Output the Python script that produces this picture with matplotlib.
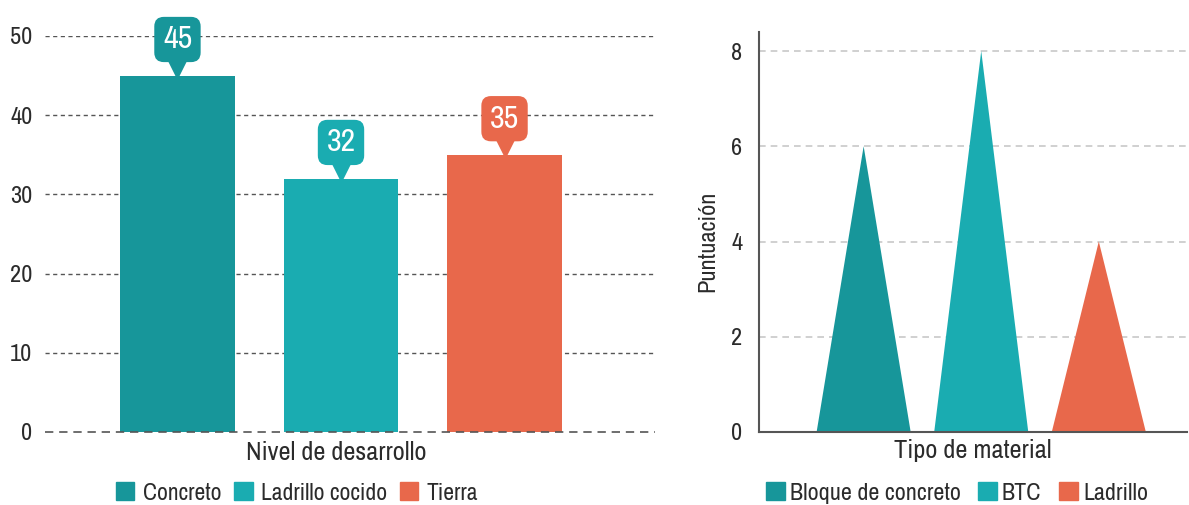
import matplotlib

matplotlib.use("Agg")
import matplotlib.pyplot as plt
import numpy as np
from matplotlib.patches import Patch
from matplotlib.transforms import ScaledTranslation

plt.rcParams["font.family"] = ["Archivo Narrow", "DejaVu Sans"]

# left chart data
dev_labels = ["Concreto", "Ladrillo cocido", "Tierra"]
dev_values = [45, 32, 35]
dev_ticks = [0, 10, 20, 30, 40, 50]
# right chart data
mat_labels = ["Bloque de concreto", "BTC", "Ladrillo"]
mat_scores = [6, 8, 4]
mat_ticks = [0, 2, 4, 6, 8]

colors = ["#17969a", "#1aacb1", "#e8684b"]
text_c = "#2b2b2b"

fig = plt.figure(figsize=(11.89, 5.05), dpi=100)

# ---- left: bar chart with callouts ----
ax1 = fig.add_axes([45 / 1189, 73 / 505, 610 / 1189, 396 / 505])
pos = np.arange(len(dev_values))
ax1.bar(pos, dev_values, width=0.70, color=colors, zorder=2)
ax1.set_xlim(-0.81, 2.92)
ax1.set_ylim(0, 50)
ax1.set_yticks(dev_ticks)
ax1.set_xticks([])
for t in dev_ticks[1:]:
    ax1.axhline(t, linestyle=(0, (3, 2.5)), color="#555555", linewidth=1.0, zorder=1)
ax1.axhline(0, linestyle=(0, (5, 3.5)), color="#555555", linewidth=1.2, zorder=3, clip_on=False)
for s in ax1.spines.values():
    s.set_visible(False)
ax1.tick_params(axis="y", length=0, pad=9, labelsize=17.5, labelcolor=text_c)

for x, v, c in zip(pos, dev_values, colors):
    ax1.annotate(str(v), xy=(x, v), xytext=(0, 26), textcoords="offset points",
                 ha="center", va="center", color="white", fontsize=23,
                 bbox=dict(boxstyle="round,pad=0.27,rounding_size=0.3", fc=c, ec="none"),
                 annotation_clip=False, zorder=4)
    tr = ax1.transData + ScaledTranslation(0, 5.5 / 72, fig.dpi_scale_trans)
    ax1.plot(x, v, marker="v", markersize=14, color=c, transform=tr, clip_on=False, zorder=3)

fig.text(336 / 1189, 1 - 452 / 505, "Nivel de desarrollo", ha="center", va="center",
         fontsize=19, color=text_c)
fig.legend([Patch(color=c) for c in colors], dev_labels, loc="center",
           bbox_to_anchor=(297 / 1189, 1 - 493 / 505), ncol=3, frameon=False,
           fontsize=17, handlelength=0.78, handleheight=0.78, handletextpad=0.35,
           columnspacing=0.55, labelcolor=text_c)

# ---- right: triangle "peaks" ----
ax2 = fig.add_axes([759 / 1189, 73 / 505, 428 / 1189, 400 / 505])
half = 0.40
for i, (v, c) in enumerate(zip(mat_scores, colors)):
    ax2.fill([i - half, i, i + half], [0, v, 0], color=c, zorder=2, linewidth=0)
ax2.set_xlim(-0.89, 2.75)
ax2.set_ylim(0, 8.4)
ax2.set_yticks(mat_ticks)
ax2.set_xticks([])
ax2.yaxis.grid(True, linestyle=(0, (4, 3)), color="#c8c8c8", linewidth=1.2, zorder=1)
ax2.spines["top"].set_visible(False)
ax2.spines["right"].set_visible(False)
for s in ("left", "bottom"):
    ax2.spines[s].set_color("#555555")
    ax2.spines[s].set_linewidth(1.5)
ax2.tick_params(axis="y", length=0, pad=12, labelsize=17.5, labelcolor=text_c)

fig.text(973 / 1189, 1 - 450 / 505, "Tipo de material", ha="center", va="center",
         fontsize=19, color=text_c)
fig.text(708 / 1189, 1 - 241 / 505, "Puntuación", ha="center", va="center",
         rotation=90, fontsize=17.5, color=text_c)
fig.legend([Patch(color=c) for c in colors], mat_labels, loc="center",
           bbox_to_anchor=(957 / 1189, 1 - 493 / 505), ncol=3, frameon=False,
           fontsize=17.3, handlelength=0.78, handleheight=0.78, handletextpad=0.2,
           columnspacing=0.75, labelcolor=text_c)

fig.savefig("out.png", dpi=100)
